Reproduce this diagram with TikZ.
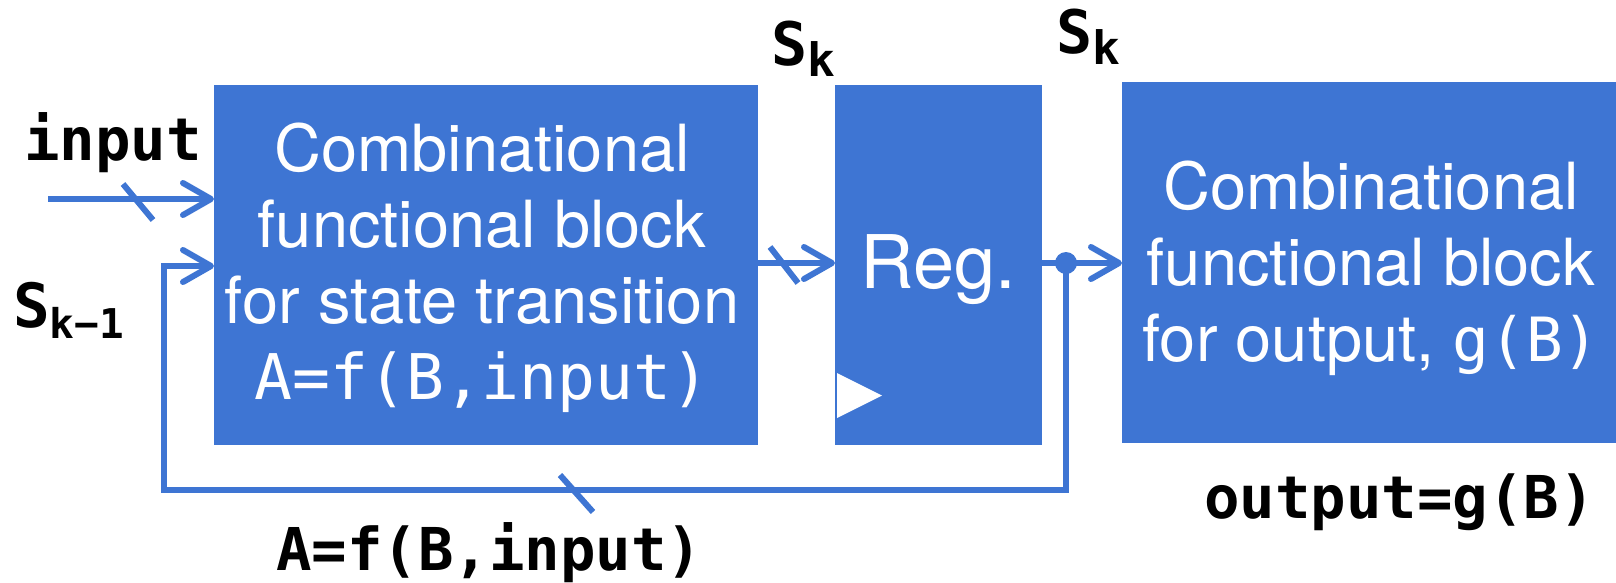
\documentclass[tikz,border=0pt]{standalone}
\usepackage{fontspec}
\setmainfont{TeX Gyre Heros}
\setmonofont{DejaVu Sans Mono}
\newfontfamily\labfont{DejaVu Sans Mono}
\usetikzlibrary{arrows.meta}
\definecolor{blk}{HTML}{3E75D3}
\begin{document}
\begin{tikzpicture}[x=1pt,y=-1pt,
  blockbox/.style={fill=blk,draw=none,inner sep=0pt,outer sep=0pt},
  wire/.style={draw=blk,line width=6pt},
  arr/.style={wire,-{Straight Barb[length=28pt,width=32pt,round]}},
  boxtext/.style={text=white,align=center,inner sep=0pt,font=\fontsize{65}{76}\selectfont},
  lab/.style={inner sep=0pt,anchor=base west,font=\labfont\bfseries\fontsize{59}{60}\selectfont},
  slab/.style={inner sep=0pt,anchor=base west}]
\useasboundingbox (0,0) rectangle (1616,582);
% blocks
\node[blockbox,minimum width=544pt,minimum height=360pt] (b1) at (486,265) {};
\node[blockbox,minimum width=207pt,minimum height=360pt] (reg) at (938.5,265) {};
\node[blockbox,minimum width=494pt,minimum height=361pt] (b3) at (1369,262.5) {};
% block texts
\node[boxtext] (t1) at (482,268) {Combinational\\functional block\\for state transition\\{\ttfamily\fontsize{63}{76}\selectfont A=f(B,input)}};
\node[boxtext,font=\fontsize{74}{76}\selectfont] (t2) at (938,270) {Reg.};
\node[boxtext] (t3) at (1371,268) {Combinational\\functional block\\for output, {\ttfamily\fontsize{61}{76}\selectfont g(B)}};
\fill[white] (837,373) -- (837,418) -- (882,395.5) -- cycle;
% labels
\node[lab] (lin) at (24,160) {input};
\node[lab] (lA) at (276,570) {A=f(B,input)};
\node[lab] (lout) at (1204,518) {output=g(B)};
\node[slab] (sk1) at (771,65) {{\labfont\bfseries\fontsize{60}{60}\selectfont S}\raisebox{-11pt}{\labfont\bfseries\fontsize{46}{50}\selectfont k}};
\node[slab] (sk2) at (1056,53) {{\labfont\bfseries\fontsize{60}{60}\selectfont S}\raisebox{-11pt}{\labfont\bfseries\fontsize{46}{50}\selectfont k}};
\node[slab] (skm) at (13,327) {{\labfont\bfseries\fontsize{61}{60}\selectfont S}\raisebox{-11pt}{\labfont\bfseries\fontsize{41}{50}\selectfont k−1}};
% connectors
\coordinate (inL) at (48,199);
\draw[arr] (inL) -- (b1.west |- inL);
\draw[wire] (123,184) -- (153,220);
\coordinate (m) at (0,263);
\draw[arr] (b1.east |- m) -- (reg.west |- m);
\draw[wire] (770,247) -- (798,283);
\coordinate (dot) at (1066,263);
\draw[wire] (reg.east |- dot) -- (dot);
\draw[arr] (dot) -- (b3.west |- dot);
\coordinate (fbR) at (1066,490);
\coordinate (fbL) at (164,490);
\coordinate (fbT) at (164,266);
\draw[arr] (dot) -- (fbR) -- (fbL) -- (fbT) -- (b1.west |- fbT);
\draw[wire] (560,475) -- (593,512);
\fill[blk] (dot) circle (11pt);
\end{tikzpicture}
\end{document}
